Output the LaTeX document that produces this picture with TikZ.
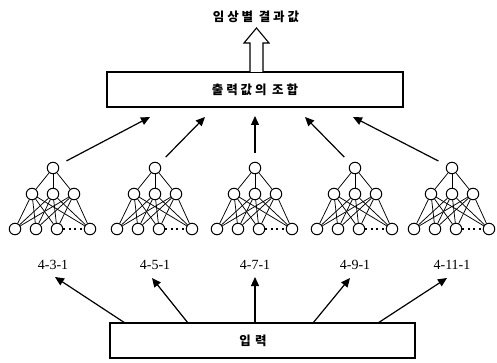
\documentclass[tikz,border=0pt]{standalone}
\usepackage{fontspec}
\setmainfont{Liberation Serif}
\newfontfamily\kr{Noto Sans CJK KR}
\usetikzlibrary{arrows.meta}
\tikzset{
  neuron/.style={circle,draw,line width=1pt,inner sep=0pt,minimum size=11.5pt},
  wire/.style={line width=0.75pt},
  boxnode/.style={draw,line width=1.3pt,inner sep=0pt},
  arr/.style={line width=1.2pt,-{Triangle[length=9pt,width=8pt]}},
  lbl/.style={font=\fontsize{14}{16}\selectfont},
  krtext/.style={font=\kr\bfseries\fontsize{12.5}{14}\selectfont}
}
\begin{document}
\begin{tikzpicture}[x=1pt,y=-1pt]
\useasboundingbox (0,0) rectangle (497,363);
% title
\node[krtext] (title) at (256,17) {임 상 별\ \ 결 과 값};
% top box
\node[boxnode,minimum width=296pt,minimum height=35pt] (comb) at (255,89.5) {};
\node[krtext] (combt) at (255,89.5) {출 력 값 의\ \ 조 합};
% hollow arrow
\draw[line width=1.1pt,fill=white] (250,72) -- (250,43) -- (244,43) -- (256.5,28) -- (269,43) -- (263,43) -- (263,72);
% networks
\foreach \i/\cx/\lab in {1/53/4-3-1,2/155/4-5-1,3/255/4-7-1,4/355/4-9-1,5/452/4-11-1}{
  \node[neuron] (t\i) at (\cx,168) {};
  \node[neuron] (ma\i) at (\cx-21,194) {};
  \node[neuron] (mb\i) at (\cx,194) {};
  \node[neuron] (mc\i) at (\cx+21,194) {};
  \node[neuron] (ba\i) at (\cx-38,229) {};
  \node[neuron] (bb\i) at (\cx-17,229) {};
  \node[neuron] (bc\i) at (\cx+4,229) {};
  \node[neuron] (bd\i) at (\cx+37,229) {};
  \foreach \m in {ma,mb,mc}{
    \draw[wire] (t\i) -- (\m\i);
    \foreach \b in {ba,bb,bc,bd}{ \draw[wire] (\m\i) -- (\b\i); }
  }
  \draw[line width=1.2pt,dash pattern=on 2pt off 3.5pt] (bc\i) -- (bd\i);
  \node[lbl] (l\i) at (\cx,265) {\lab};
}
% input box
\node[boxnode,minimum width=305pt,minimum height=35pt] (inp) at (262.5,340.5) {};
\node[krtext] (inpt) at (253,340.5) {입\,\,력};
% arrows to combination box
\coordinate (u1) at (150,117);
\coordinate (u2) at (205,117);
\coordinate (u3) at (255,116);
\coordinate (u4) at (305,117);
\coordinate (u5) at (353,117);
\foreach \i in {1,...,5}{ \draw[arr,shorten <=9pt] (t\i) -- (u\i); }
% arrows from input
\coordinate (s1) at (125,323);
\coordinate (s2) at (188,323);
\coordinate (s3) at (255,323);
\coordinate (s4) at (313,323);
\coordinate (s5) at (378,323);
\coordinate (d1) at (55,277);
\coordinate (d2) at (152,278);
\coordinate (d3) at (255,277);
\coordinate (d4) at (350,278);
\coordinate (d5) at (447,278);
\foreach \i in {1,...,5}{ \draw[arr] (s\i) -- (d\i); }
\end{tikzpicture}
\end{document}
